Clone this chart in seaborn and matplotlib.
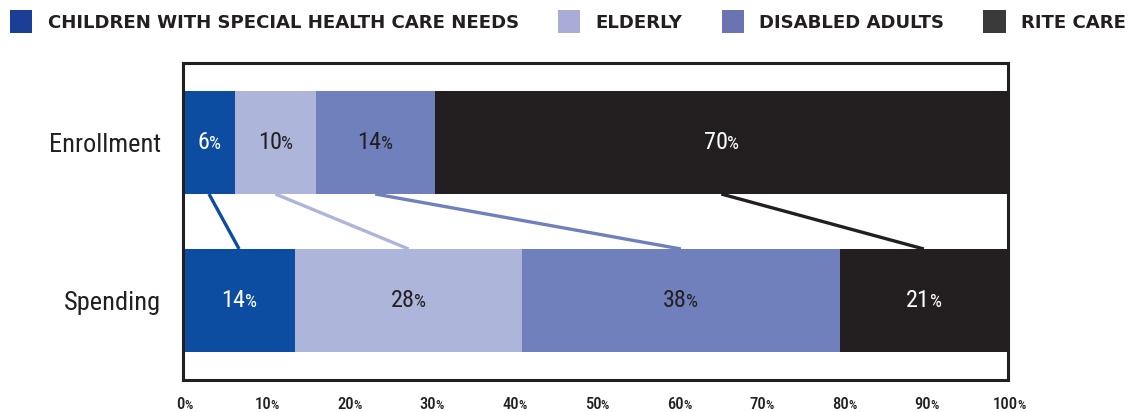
import matplotlib
matplotlib.use("Agg")
import matplotlib.pyplot as plt
import seaborn as sns
import pandas as pd
from matplotlib.patches import Patch
from matplotlib.offsetbox import TextArea, HPacker, AnnotationBbox

# ---- data ----
categories = ["Enrollment", "Spending"]
groups = ["Children with special health care needs", "Elderly", "Disabled adults", "Rite Care"]
enrollment = [6.3, 9.8, 14.4, 69.5]
spending = [13.6, 27.5, 38.5, 20.4]
enrollment_labels = ["6", "10", "14", "70"]
spending_labels = ["14", "28", "38", "21"]
xticks = [0, 10, 20, 30, 40, 50, 60, 70, 80, 90, 100]

bar_colors = ["#0c4da2", "#adb5db", "#6f80bd", "#231f20"]
legend_colors = ["#1b3f96", "#a9acd6", "#6b74b3", "#3a3a3a"]
text_colors = ["white", "#231f20", "#231f20", "white"]
dark = "#231f20"

sns.set_theme(style="white")
plt.rcParams['font.family'] = ['Roboto Condensed', 'DejaVu Sans']

rows = []
for cat, vals, labs in [("Enrollment", enrollment, enrollment_labels),
                        ("Spending", spending, spending_labels)]:
    cum = 0
    for g, v, l in zip(groups, vals, labs):
        rows.append(dict(category=cat, group=g, value=v, start=cum, cum=cum + v, label=l))
        cum += v
df = pd.DataFrame(rows)

fig = plt.figure(figsize=(11.4, 4.12), dpi=100)
ax = fig.add_axes([183 / 1140, 32 / 412, 825 / 1140, 317 / 412])

bar_h = 0.652
for i in reversed(range(len(groups))):
    sub = df[df.group == groups[i]]
    sns.barplot(data=sub, x="cum", y="category", orient="h", order=categories,
                color=bar_colors[i], saturation=1, width=bar_h, linewidth=0, ax=ax)

ax.set_xlim(0, 100)
ax.set_ylim(1.503, -0.503)
ax.set_xlabel("")
ax.set_ylabel("")
for s in ax.spines.values():
    s.set_visible(True)
    s.set_color(dark)
    s.set_linewidth(2.2)

# connecting lines
en = df[df.category == "Enrollment"].reset_index(drop=True)
sp = df[df.category == "Spending"].reset_index(drop=True)
for i in range(len(groups)):
    x0 = en.loc[i, "start"] + en.loc[i, "value"] / 2
    x1 = sp.loc[i, "start"] + sp.loc[i, "value"] / 2
    ax.plot([x0, x1], [0 + bar_h / 2, 1 - bar_h / 2], color=bar_colors[i], lw=2.4,
            solid_capstyle="butt", zorder=0.9)

# segment labels
for _, r in df.iterrows():
    i = groups.index(r.group)
    y = categories.index(r.category)
    box = HPacker(children=[TextArea(r.label, textprops=dict(size=17.5, color=text_colors[i])),
                            TextArea("%", textprops=dict(size=13.5, color=text_colors[i]))],
                  align="baseline", pad=0, sep=-0.5)
    ab = AnnotationBbox(box, (r.start + r.value / 2, y), frameon=False,
                        box_alignment=(0.5, 0.5), zorder=5)
    ax.add_artist(ab)

# y tick labels
ax.set_yticks(range(len(categories)))
ax.set_yticklabels(categories, fontsize=19, color=dark)
ax.tick_params(axis="y", length=0, pad=16)

# x tick labels with small %
ax.set_xticks(xticks)
ax.set_xticklabels([])
ax.tick_params(axis="x", length=0)
for v in xticks:
    box = HPacker(children=[TextArea(str(v), textprops=dict(size=12, color=dark, weight="medium")),
                            TextArea("%", textprops=dict(size=9.5, color=dark, weight="medium"))],
                  align="baseline", pad=0, sep=-0.3)
    ab = AnnotationBbox(box, (v, 0), xycoords=("data", "axes fraction"),
                        xybox=(1, -17.5), boxcoords="offset points",
                        frameon=False, box_alignment=(0.5, 0.5), annotation_clip=False)
    ax.add_artist(ab)

# legend
handles = [Patch(facecolor=c, edgecolor="none") for c in legend_colors]
fig.legend(handles, [g.upper() for g in groups], loc="upper left",
           bbox_to_anchor=(10 / 1140, 1 - 10 / 412), ncol=4, frameon=False,
           prop=dict(family="DejaVu Sans", weight="bold", size=13.1),
           handlelength=1.22, handleheight=1.59, handletextpad=0.85,
           columnspacing=2.15, borderpad=0, borderaxespad=0,
           labelcolor=dark)

fig.savefig("out.png", dpi=100)
